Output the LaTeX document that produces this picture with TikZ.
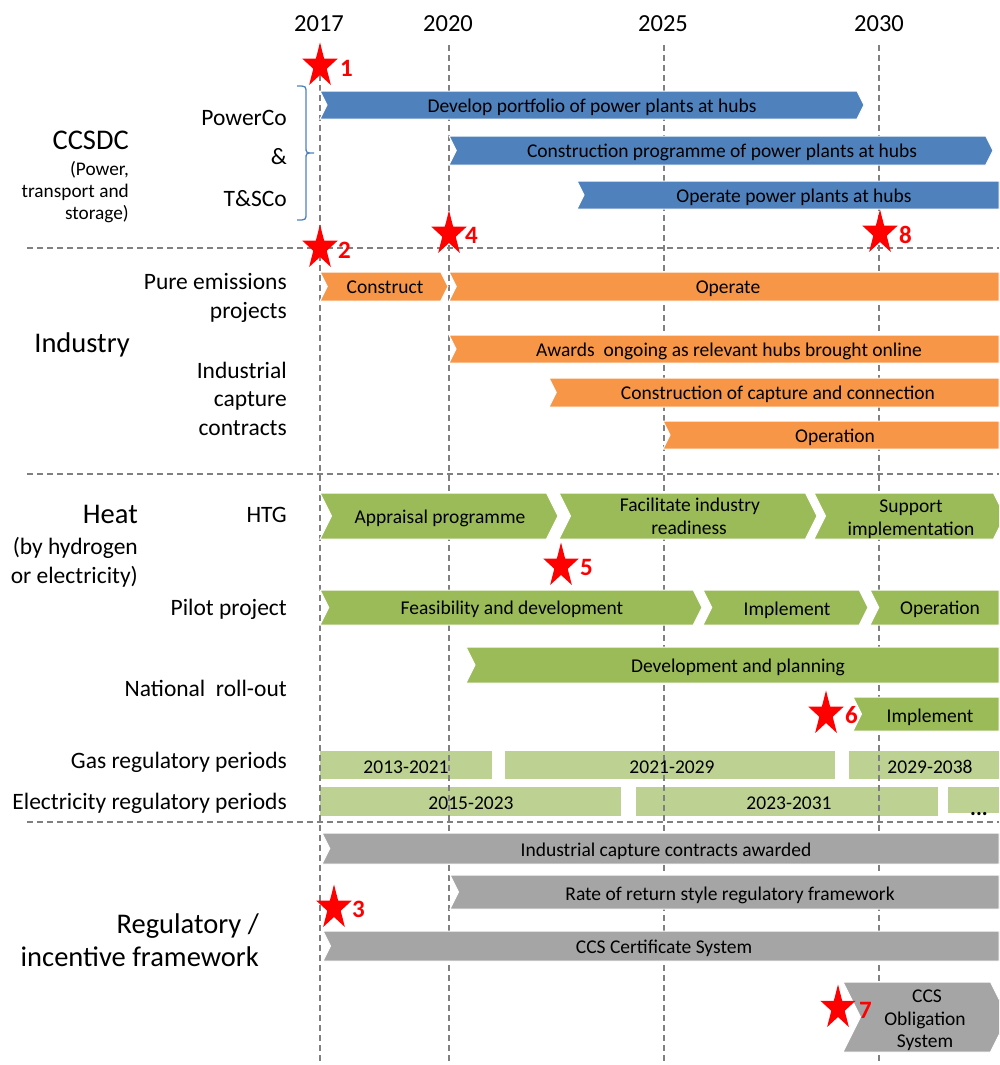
\documentclass[tikz,border=0pt]{standalone}
\usepackage{fontspec}
\setmainfont{Carlito}
\definecolor{cblue}{HTML}{4F81BD}
\definecolor{corange}{HTML}{F79646}
\definecolor{cgreen}{HTML}{9BBB59}
\definecolor{clgreen}{HTML}{BDD193}
\definecolor{cgray}{HTML}{A5A5A5}
\definecolor{cdash}{HTML}{808080}
\definecolor{cstar}{HTML}{FF0000}
\newcommand\chev[7]{%
  \pgfmathsetmacro\chd{0.25*(#5-#4)}%
  \pgfmathsetmacro\chm{(#4+#5)/2}%
  \filldraw[barline, fill=#1] (#2,#4) -- ({#3-#7*\chd},#4) -- (#3,\chm) -- ({#3-#7*\chd},#5) -- (#2,#5) -- ({#2+#6*\chd},\chm) -- cycle;}
\newcommand\redstar[2]{%
  \fill[cstar, shift={(#1,#2)}, xscale=18.5, yscale=-23.5]
    (0,1) -- (-0.2245,0.309) -- (-0.951,0.309) -- (-0.3633,-0.118) -- (-0.588,-0.809)
    -- (0,-0.382) -- (0.588,-0.809) -- (0.3633,-0.118) -- (0.951,0.309) -- (0.2245,0.309) -- cycle;}
\tikzset{
  barline/.style={draw=white, line width=1pt},
  gridline/.style={draw=cdash, line width=1.3pt, dash pattern=on 6pt off 4pt},
  bartext/.style={font=\fontsize{19.5}{23}\selectfont, anchor=base, inner sep=0pt, text=black},
  lbl/.style={font=\fontsize{23.5}{29}\selectfont, anchor=base east, inner sep=0pt},
  biglbl/.style={font=\fontsize{28.5}{33}\selectfont, anchor=base east, inner sep=0pt},
  smalllbl/.style={font=\fontsize{19.3}{22}\selectfont, anchor=base east, inner sep=0pt},
  yearlbl/.style={font=\fontsize{24.5}{27}\selectfont, anchor=base, inner sep=0pt},
  numlbl/.style={font=\fontsize{25}{28}\selectfont\bfseries, text=cstar, anchor=base west, inner sep=0pt},
}
\begin{document}
\begin{tikzpicture}[x=1pt, y=-1pt]
\useasboundingbox (0,0) rectangle (999,1065);
\begin{scope}
\clip (0,0) rectangle (999,1065);
% light green regulatory period boxes (behind grid)
\fill[clgreen] (320,751) rectangle (492,779);
\fill[clgreen] (505,751) rectangle (835,779);
\fill[clgreen] (849,751) rectangle (999,779);
\fill[clgreen] (320,787) rectangle (621,816);
\fill[clgreen] (636,787) rectangle (938,816);
\fill[clgreen] (948,787) rectangle (999,813);
% grid
\foreach \gx in {320,449,664,879} \draw[gridline] (\gx,45) -- (\gx,1065);
\foreach \gy in {248,474,822} \draw[gridline] (27,\gy) -- (999,\gy);
% blue
\chev{cblue}{320}{864}{91}{119}{1}{1}
\chev{cblue}{449}{993}{136}{165}{1}{1}
\chev{cblue}{577}{999}{181}{209}{1}{0}
% orange
\chev{corange}{320}{448}{272}{301}{1}{1}
\chev{corange}{449}{999}{272}{301}{1}{0}
\chev{corange}{449}{999}{335}{363}{1}{0}
\chev{corange}{549}{999}{378}{407}{1}{0}
\chev{corange}{663}{999}{421}{449}{1}{0}
% green
\chev{cgreen}{320}{558}{493}{539}{1}{1}
\chev{cgreen}{559}{817}{493}{539}{1}{1}
\chev{cgreen}{814}{1005}{493}{539}{1}{1}
\chev{cgreen}{320}{702}{590}{625}{1}{1}
\chev{cgreen}{703}{868}{590}{625}{1}{1}
\chev{cgreen}{870}{999}{590}{625}{1}{0}
\chev{cgreen}{466}{999}{647}{683}{1}{0}
\chev{cgreen}{853}{999}{697}{731}{1}{0}
% gray
\chev{cgray}{322}{999}{833}{864}{1}{0}
\chev{cgray}{450}{999}{875}{909}{1}{0}
\chev{cgray}{323}{999}{931}{961}{1}{0}
\chev{cgray}{843}{1008}{982}{1052}{1}{1}
\end{scope}
% brace
\draw[cblue, line width=1.3pt] (297,86) .. controls (306,86) .. (306,93) -- (306,147)
  .. controls (306,153) .. (314,153) .. controls (306,153) .. (306,159) -- (306,213)
  .. controls (306,220) .. (297,220);
% stars
\redstar{320}{66}
\redstar{320}{248}
\redstar{449}{234}
\redstar{880}{233}
\redstar{561}{566}
\redstar{826}{714}
\redstar{334}{908}
\redstar{838}{1008}
\node[numlbl] (n1) at (340,76) {1};
\node[numlbl] (n2) at (338,258) {2};
\node[numlbl] (n4) at (465,243) {4};
\node[numlbl] (n8) at (899,243) {8};
\node[numlbl] (n5) at (580,575) {5};
\node[numlbl] (n6) at (845,723) {6};
\node[numlbl] (n3) at (352,917) {3};
\node[numlbl] (n7) at (859,1018) {7};
% years
\node[yearlbl] (y2017) at (319,32) {2017};
\node[yearlbl] (y2020) at (448,32) {2020};
\node[yearlbl] (y2025) at (663,32) {2025};
\node[yearlbl] (y2030) at (879,32) {2030};
% left labels
\node[biglbl] (ccsdc) at (129,149) {CCSDC};
\node[smalllbl] (ccsdc1) at (129,175) {(Power,};
\node[smalllbl] (ccsdc2) at (129,197) {transport and};
\node[smalllbl] (ccsdc3) at (129,219) {storage)};
\node[lbl] (powerco) at (287,125) {PowerCo};
\node[lbl] (amp) at (287,164) {\&};
\node[lbl] (tsco) at (287,206) {T\&SCo};
\node[lbl] (pure1) at (287,289) {Pure emissions};
\node[lbl] (pure2) at (287,318) {projects};
\node[biglbl] (industry) at (130,352) {Industry};
\node[lbl] (icc1) at (287,378) {Industrial};
\node[lbl] (icc2) at (287,406) {capture};
\node[lbl] (icc3) at (287,435) {contracts};
\node[biglbl] (heat) at (138,523) {Heat};
\node[lbl] (heat1) at (138,554) {(by hydrogen};
\node[lbl] (heat2) at (138,583) {or electricity)};
\node[lbl] (htg) at (287,522) {HTG};
\node[lbl] (pilot) at (287,615) {Pilot project};
\node[lbl] (natl) at (287,696) {National\ \ roll-out};
\node[lbl] (gasrp) at (287,768) {Gas regulatory periods};
\node[lbl] (elrp) at (287,809) {Electricity regulatory periods};
\node[biglbl] (reg1) at (259,933) {Regulatory /};
\node[biglbl] (reg2) at (259,966) {incentive framework};
% bar texts
\node[bartext] (tb1) at (592,112) {Develop portfolio of power plants at hubs};
\node[bartext] (tb2) at (722,157) {Construction programme of power plants at hubs};
\node[bartext] (tb3) at (794,202) {Operate power plants at hubs};
\node[bartext] (to1) at (385,293) {Construct};
\node[bartext] (to2) at (728,293) {Operate};
\node[bartext] (to3) at (729,356) {Awards\ \ ongoing as relevant hubs brought online};
\node[bartext] (to4) at (778,399) {Construction of capture and connection};
\node[bartext] (to5) at (835,442) {Operation};
\node[bartext] (tg1) at (440,523) {Appraisal programme};
\node[bartext] (tg2a) at (690,511) {Facilitate industry};
\node[bartext] (tg2b) at (689,534) {readiness};
\node[bartext] (tg3a) at (911,512) {Support};
\node[bartext] (tg3b) at (911,535) {implementation};
\node[bartext] (tg4) at (512,614) {Feasibility and development};
\node[bartext] (tg5) at (787,615) {Implement};
\node[bartext] (tg6) at (940,614) {Operation};
\node[bartext] (tg7) at (738,672) {Development and planning};
\node[bartext] (tg8) at (930,722) {Implement};
\node[bartext] (tl1) at (406,773) {2013-2021};
\node[bartext] (tl2) at (672,773) {2021-2029};
\node[bartext] (tl3) at (930,773) {2029-2038};
\node[bartext] (tl4) at (471,809) {2015-2023};
\node[bartext] (tl5) at (789,809) {2023-2031};
\node[bartext, font=\fontsize{22}{24}\selectfont\bfseries] (tl6) at (979,815) {...};
\node[bartext] (tr1) at (666,856) {Industrial capture contracts awarded};
\node[bartext] (tr2) at (730,900) {Rate of return style regulatory framework};
\node[bartext] (tr3) at (664,953) {CCS Certificate System};
\node[bartext] (tr4a) at (927,1002) {CCS};
\node[bartext] (tr4b) at (925,1025) {Obligation};
\node[bartext] (tr4c) at (925,1047) {System};
\end{tikzpicture}
\end{document}
